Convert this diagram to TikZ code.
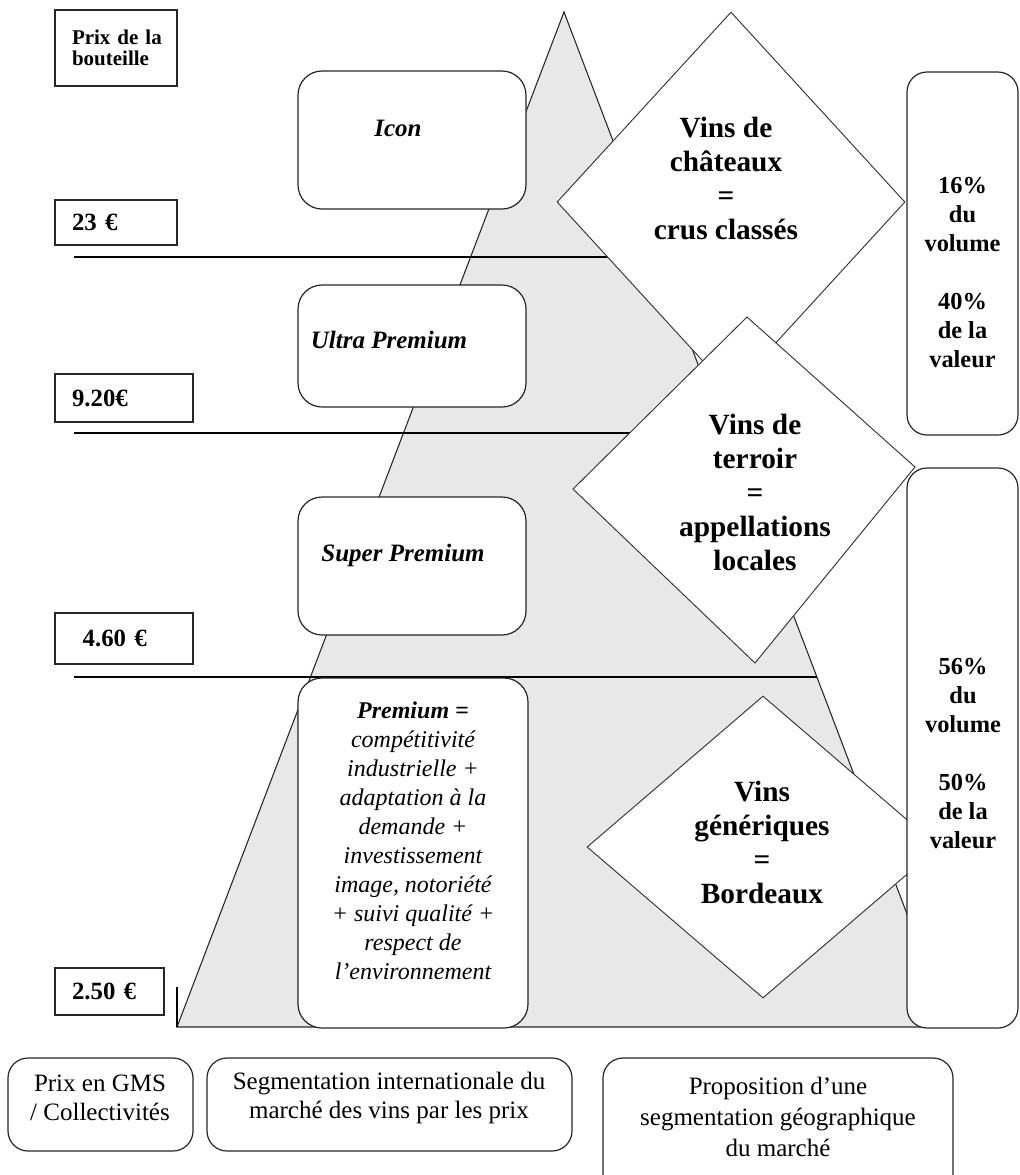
\documentclass[tikz,border=0pt]{standalone}
\usepackage{fontspec}
\setmainfont{Liberation Serif}
\usetikzlibrary{shapes.geometric}
\definecolor{pyramid}{HTML}{E8E8E8}
\begin{document}
\begin{tikzpicture}[x=0.75pt, y=-0.75pt,
    price/.style ={rectangle, draw=black!85, line width=1.1pt, fill=white,
      inner xsep=12.75pt, inner ysep=0pt, align=left,
      font=\fontsize{18.6pt}{22pt}\selectfont\bfseries},
    segment/.style ={rectangle, rounded corners=18pt, draw=black!85,
      line width=0.9pt, fill=white, minimum width=171pt},
    region/.style ={diamond, draw=black!80, line width=0.7pt, fill=white, inner sep=0pt},
    share/.style ={rectangle, rounded corners=15pt, draw=black!85,
      line width=0.9pt, fill=white, minimum width=83.25pt},
    legend/.style ={rectangle, rounded corners=15pt, draw=black!85,
      line width=0.9pt, fill=white},
    segtext/.style ={align=center, font=\fontsize{18.75pt}{22pt}\selectfont\bfseries\itshape},
    regtext/.style ={align=center, font=\fontsize{22pt}{25.5pt}\selectfont\bfseries},
    sharetext/.style ={align=center, font=\fontsize{18.3pt}{21.75pt}\selectfont\bfseries},
    legtext/.style ={align=center, font=\fontsize{18.75pt}{21.75pt}\selectfont}]

   \path[use as bounding box] (0,0) rectangle (1020,1175);
   \clip (0,0) rectangle (1020,1175);

   \coordinate (T)  at (564,12);
   \coordinate (BL) at (177,1027);
   \coordinate (BR) at (950,1027);
   \coordinate (K)  at (177,987);
   \coordinate (A1) at (74,257);
   \coordinate (E1) at (657,257);
   \coordinate (A2) at (74,433);
   \coordinate (E2) at (724,433);
   \coordinate (A3) at (74,677);
   \coordinate (E3) at (817,677);
   \coordinate (TN) at (747,317);
   \coordinate (TE) at (915,467);
   \coordinate (TS) at (755,663);
   \coordinate (TW) at (573,489);

   \filldraw[fill=pyramid, draw=black!85, line width=0.8pt] (T) -- (BL) -- (BR) -- cycle;

   \draw[line width=1.1pt] (A1) -- (E1);
   \draw[line width=1.1pt] (A2) -- (E2);
   \draw[line width=1.1pt] (A3) -- (E3);

   \node[segment, minimum height=103.5pt] (Icon) at (412,140) {};
   \node[segment, minimum height=91.5pt] (Ultra) at (412,346) {};
   \node[segment, minimum height=103.5pt] (Super) at (412,566) {};
   \node[segment, minimum height=262.5pt, minimum width=172.5pt] (Prem) at (413,853) {};

   \node[region, minimum width=261pt, minimum height=285pt] (Chateaux) at (731,202) {};
   \filldraw[fill=white, draw=black!80, line width=0.7pt] (TN) -- (TE) -- (TS) -- (TW) -- cycle;
   \node[region, minimum width=264pt, minimum height=226.5pt] (Generiques) at (763,847) {};

   \node[share, minimum height=272.25pt] (Haut) at (962.5,253.5) {};
   \node[share, minimum height=420pt] (Bas) at (962.5,748) {};

   \node[price, text width=66pt, minimum height=57pt,
     font=\fontsize{15.75pt}{16pt}\selectfont\bfseries] (Prix) at (116,48) {\mbox{Prix de la}\\bouteille};
   \node[price, text width=66pt, minimum height=33.75pt] (P23) at (116,222.5) {23 €};
   \node[price, text width=78pt, minimum height=36pt] (P920) at (124,398) {9.20€};
   \node[price, text width=78pt, minimum height=38.25pt] (P460) at (124,638.5) {\hspace*{8pt}4.60 €};
   \node[price, text width=56.25pt, minimum height=35.25pt] (P250) at (109.5,991.5) {2.50 €};

   \draw[line width=1.1pt] (K) -- (BL);

   \node[legend, minimum width=138.75pt, minimum height=69.75pt] (GMS) at (100.5,1104.5) {};
   \node[legend, minimum width=273.75pt, minimum height=69.75pt] (Inter) at (389.5,1104.5) {};
   \node[legend, minimum width=262.5pt, minimum height=106.5pt] (Geo) at (778,1129) {};

   \node[segtext] (IconT) at (398,128) {Icon};
   \node[segtext] (UltraT) at (389,340) {Ultra Premium};
   \node[segtext] (SuperT) at (403,555) {Super Premium};
   \node[align=center, font=\fontsize{18pt}{21.75pt}\selectfont\itshape] (PremT) at (413,841)
     {\textbf{Premium =}\\compétitivité\\industrielle +\\adaptation à la\\demande +\\investissement\\image, notoriété\\+ suivi qualité +\\respect de\\l’environnement};

   \node[regtext] (ChateauxT) at (726,178) {Vins de\\châteaux\\=\\crus classés};
   \node[regtext] (TerroirT) at (755,492) {Vins de\\terroir\\=\\appellations\\locales};
   \node[regtext] (GeneriquesT) at (762,842) {Vins\\génériques\\=\\Bordeaux};

   \node[sharetext] (HautT) at (962.5,272.5) {16\%\\du\\volume\\[21.75pt]40\%\\de la\\valeur};
   \node[sharetext] (BasT) at (963,753.5) {56\%\\du\\volume\\[21.75pt]50\%\\de la\\valeur};

   \node[legtext] (GMST) at (100,1097.5) {Prix en GMS\\/ Collectivités};
   \node[legtext] (InterT) at (389,1098) {Segmentation internationale du\\marché des vins par les prix};
   \node[legtext, font=\fontsize{18.75pt}{23.25pt}\selectfont] (GeoT) at (778,1117) {Proposition d’une\\segmentation géographique\\du marché};

 \end{tikzpicture}
\end{document}
